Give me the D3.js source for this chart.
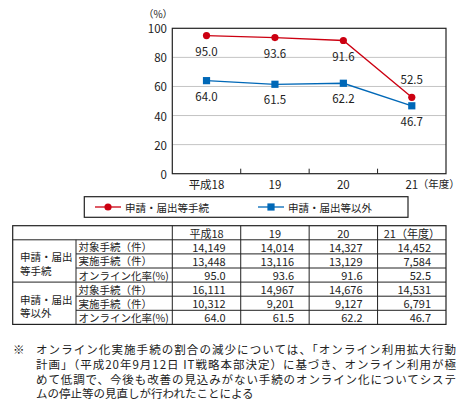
<!DOCTYPE html>
<html>
<head>
<meta charset="utf-8">
<script src="https://cdn.jsdelivr.net/npm/d3@7"></script>
<style>
  body { margin: 0; background: #fff; }
  svg { display: block; }
  text { font-family: "Noto Sans CJK JP", "Noto Sans", sans-serif; fill: #222; }
</style>
</head>
<body>
<div id="chart"></div>
<script>

// data
var years = ["平成18", "19", "20", "21"];
var yearHeads = ["平成18", "19", "20", "21（年度）"];
var seriesNames = ["申請・届出等手続", "申請・届出等以外"];
var shinsei = [95.0, 93.6, 91.6, 52.5];
var igai = [64.0, 61.5, 62.2, 46.7];
var yTicks = [0, 20, 40, 60, 80, 100];

var rowLabels = ["対象手続（件）", "実施手続（件）", "オンライン化率(%)"];
var shinseiTaisho = [14149, 14014, 14327, 14452];
var shinseiJisshi = [13448, 13116, 13129, 7584];
var igaiTaisho = [16111, 14967, 14676, 14531];
var igaiJisshi = [10312, 9201, 9127, 6791];

var noteLines = [
  "オンライン化実施手続の割合の減少については、「オンライン利用拡大行動",
  "計画」（平成20年9月12日 IT戦略本部決定）に基づき、オンライン利用が極",
  "めて低調で、今後も改善の見込みがない手続のオンライン化についてシステ",
  "ムの停止等の見直しが行われたことによる"
];

var red = "#cc0011", blue = "#0068b7";

var svg = d3.select("#chart").append("svg")
  .attr("width", 462).attr("height", 400);

var x = d3.scaleBand().domain(years).range([172.3, 446]);
var y = d3.scaleLinear().domain([0, 100]).range([173.7, 28.3]);

// grid
svg.selectAll(".grid")
  .data(yTicks.slice(1, -1))
  .enter().append("line")
  .attr("x1", x.range()[0]).attr("x2", x.range()[1])
  .attr("y1", function(d){ return y(d); })
  .attr("y2", function(d){ return y(d); })
  .attr("stroke", "#c4c4c4").attr("stroke-width", 1);

// frame
svg.append("rect")
  .attr("x", x.range()[0]).attr("y", y(100))
  .attr("width", x.range()[1] - x.range()[0])
  .attr("height", y(0) - y(100))
  .attr("fill", "none").attr("stroke", "#222").attr("stroke-width", 1.2);

// inner ticks at band edges
svg.selectAll(".xtick")
  .data(years.slice(1))
  .enter().append("line")
  .attr("x1", function(d){ return x(d); })
  .attr("x2", function(d){ return x(d); })
  .attr("y1", y(0)).attr("y2", y(0) - 5)
  .attr("stroke", "#222");

// y labels
svg.selectAll(".ylab")
  .data(yTicks)
  .enter().append("text")
  .attr("x", 167).attr("y", function(d){ return y(d); })
  .attr("text-anchor", "end").attr("dominant-baseline", "central")
  .attr("font-size", 11.5)
  .text(function(d){ return d; });

svg.append("text").attr("x", 158).attr("y", 13.5)
  .attr("text-anchor", "middle").attr("dominant-baseline", "central")
  .attr("font-size", 10).text("（%）");

// x labels
svg.selectAll(".xlab")
  .data(years)
  .enter().append("text")
  .attr("x", function(d){ return x(d) + x.bandwidth() / 2; })
  .attr("y", 183.5)
  .attr("text-anchor", "middle").attr("dominant-baseline", "central")
  .attr("font-size", 11.5)
  .text(function(d){ return d; });
svg.append("text")
  .attr("x", x("21") + x.bandwidth() / 2 + 6).attr("y", 183.5)
  .attr("dominant-baseline", "central").attr("font-size", 10.5)
  .text("（年度）");

var line = d3.line()
  .x(function(d, i){ return x(years[i]) + x.bandwidth() / 2; })
  .y(function(d){ return y(d); });

function drawSeries(vals, color, shape) {
  svg.append("path").datum(vals)
    .attr("d", line).attr("fill", "none")
    .attr("stroke", color).attr("stroke-width", 1.3);
  var g = svg.selectAll(null).data(vals).enter().append("g")
    .attr("transform", function(d, i){
      return "translate(" + (x(years[i]) + x.bandwidth() / 2) + "," + y(d) + ")";
    });
  if (shape == "circle") {
    g.append("circle").attr("r", 3.6).attr("fill", color);
  } else {
    g.append("rect").attr("x", -3.6).attr("y", -3.6)
      .attr("width", 7.2).attr("height", 7.2).attr("fill", color);
  }
}

drawSeries(shinsei, red, "circle");
drawSeries(igai, blue, "square");

// value labels: red below except where it would clash with blue
svg.selectAll(".lr").data(shinsei).enter().append("text")
  .attr("x", function(d, i){ return x(years[i]) + x.bandwidth() / 2; })
  .attr("y", function(d, i){ return y(d) + (d - igai[i] < 10 ? -18 : 15); })
  .attr("text-anchor", "middle").attr("dominant-baseline", "central")
  .attr("font-size", 11.5)
  .text(function(d){ return d.toFixed(1); });

svg.selectAll(".lb").data(igai).enter().append("text")
  .attr("x", function(d, i){ return x(years[i]) + x.bandwidth() / 2; })
  .attr("y", function(d){ return y(d) + 15; })
  .attr("text-anchor", "middle").attr("dominant-baseline", "central")
  .attr("font-size", 11.5)
  .text(function(d){ return d.toFixed(1); });

// legend
svg.append("rect").attr("x", 84.3).attr("y", 196.7)
  .attr("width", 323.7).attr("height", 20.6)
  .attr("fill", "none").attr("stroke", "#222").attr("stroke-width", 1.2);

var legendItems = [
  {name: seriesNames[0], color: red, shape: "circle", x: 95},
  {name: seriesNames[1], color: blue, shape: "square", x: 258}
];
legendItems.forEach(function(it) {
  var ly = 207;
  svg.append("line").attr("x1", it.x).attr("x2", it.x + 26)
    .attr("y1", ly).attr("y2", ly)
    .attr("stroke", it.color).attr("stroke-width", 1.3);
  if (it.shape == "circle") {
    svg.append("circle").attr("cx", it.x + 13).attr("cy", ly).attr("r", 3.6).attr("fill", it.color);
  } else {
    svg.append("rect").attr("x", it.x + 9.4).attr("y", ly - 3.6)
      .attr("width", 7.2).attr("height", 7.2).attr("fill", it.color);
  }
  svg.append("text").attr("x", it.x + 30).attr("y", ly)
    .attr("dominant-baseline", "central").attr("font-size", 10.5)
    .text(it.name);
});

// table
var tTop = 225.7, rowH = 14.1;
var tLeft = 12.7, col1 = 76, col2 = x.range()[0], tRight = x.range()[1];
var tBottom = tTop + rowH * 7;
var tg = svg.append("g").attr("stroke", "#222").attr("stroke-width", 1);

tg.append("rect").attr("x", tLeft).attr("y", tTop)
  .attr("width", tRight - tLeft).attr("height", tBottom - tTop)
  .attr("fill", "none").attr("stroke-width", 1.2);

// horizontal lines
d3.range(1, 7).forEach(function(r) {
  var full = (r == 1 || r == 4);
  tg.append("line")
    .attr("x1", full ? tLeft : col1).attr("x2", tRight)
    .attr("y1", tTop + r * rowH).attr("y2", tTop + r * rowH);
});
// vertical lines
tg.append("line").attr("x1", col1).attr("x2", col1)
  .attr("y1", tTop + rowH).attr("y2", tBottom);
[col2].concat(years.slice(1).map(function(d){ return x(d); })).forEach(function(cx) {
  tg.append("line").attr("x1", cx).attr("x2", cx)
    .attr("y1", tTop).attr("y2", tBottom);
});

// header
svg.selectAll(".th").data(yearHeads).enter().append("text")
  .attr("x", function(d, i){ return x(years[i]) + x.bandwidth() / 2; })
  .attr("y", tTop + rowH / 2)
  .attr("text-anchor", "middle").attr("dominant-baseline", "central")
  .attr("font-size", 11)
  .text(function(d){ return d; });

var fmt = d3.format(",");
var groups = [
  {label: ["申請・届出", "等手続"], rows: [shinseiTaisho.map(fmt), shinseiJisshi.map(fmt), shinsei.map(function(v){ return v.toFixed(1); })]},
  {label: ["申請・届出", "等以外"], rows: [igaiTaisho.map(fmt), igaiJisshi.map(fmt), igai.map(function(v){ return v.toFixed(1); })]}
];

groups.forEach(function(g, gi) {
  var gTop = tTop + rowH * (1 + gi * 3);
  g.label.forEach(function(t, li) {
    svg.append("text").attr("x", 20).attr("y", gTop + rowH * 1.2 + li * 13.5)
      .attr("dominant-baseline", "central").attr("font-size", 10.5)
      .text(t);
  });
  g.rows.forEach(function(vals, ri) {
    var ry = gTop + ri * rowH + rowH / 2;
    svg.append("text").attr("x", col1 + 2.5).attr("y", ry)
      .attr("dominant-baseline", "central").attr("font-size", 10.5)
      .text(rowLabels[ri]);
    vals.forEach(function(v, ci) {
      svg.append("text").attr("x", x(years[ci]) + x.bandwidth() - 15).attr("y", ry)
        .attr("text-anchor", "end").attr("dominant-baseline", "central")
        .attr("font-size", 11)
        .text(v);
    });
  });
});

// note
svg.append("text").attr("x", 13).attr("y", 349)
  .attr("dominant-baseline", "central").attr("font-size", 11.5).text("※");
noteLines.forEach(function(t, i) {
  var tx = svg.append("text").attr("x", 36).attr("y", 349 + i * 14.8)
    .attr("dominant-baseline", "central").attr("font-size", 11.5)
    .text(t);
  if (i < noteLines.length - 1) {
    tx.attr("textLength", 420).attr("lengthAdjust", "spacing");
  }
});

</script>
</body>
</html>
